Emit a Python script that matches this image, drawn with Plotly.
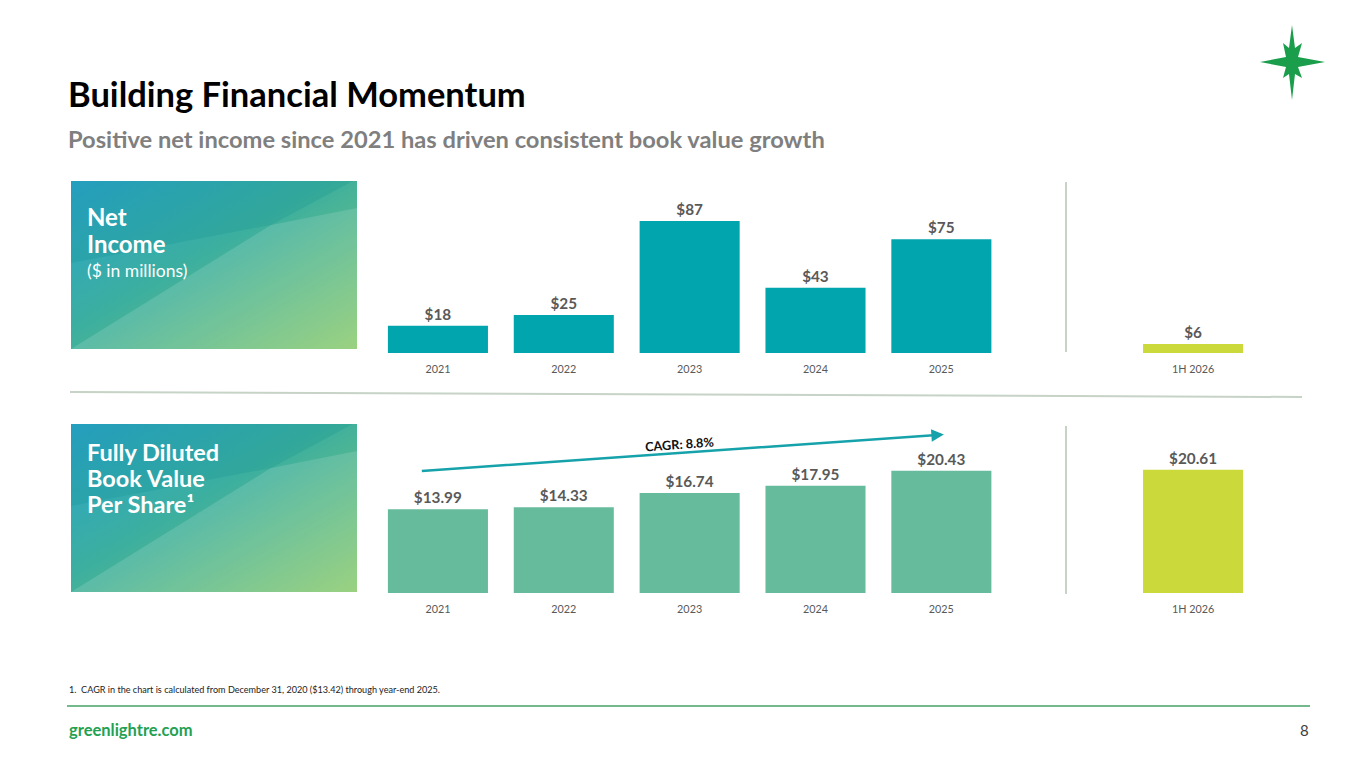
import base64

import plotly.graph_objects as go

W, H = 1365, 768
FONT = "Lato"

# Chart data
YEARS = ["2021", "2022", "2023", "2024", "2025"]
LATEST = "1H 2026"
SLOTS = YEARS + [" ", LATEST]  # blank slot holds the vertical divider

NET_INCOME = [18, 25, 87, 43, 75]
NET_INCOME_LATEST = 6
BVPS = [13.99, 14.33, 16.74, 17.95, 20.43]
BVPS_LATEST = 20.61

CAGR_TEXT = "CAGR: 8.8%"

TEAL = "#00a5ad"
SEA = "#67bb9d"
LIME = "#cbd93b"
GREY = "#595959"
RULE = "#c6d3c6"


def px(x: float) -> float:
    return x / W


def py(y: float) -> float:
    return 1 - y / H


def _panel_svg(w: int, h: int) -> str:
    # Gradient tile behind the section labels
    svg = f"""<svg xmlns="http://www.w3.org/2000/svg" width="{w}" height="{h}" viewBox="0 0 {w} {h}" preserveAspectRatio="none">
<defs><linearGradient id="g" x1="0" y1="0" x2="1" y2="1">
<stop offset="0" stop-color="#2aa3cc"/><stop offset="0.45" stop-color="#3caf9f"/><stop offset="1" stop-color="#8ccb6e"/>
</linearGradient></defs>
<rect width="{w}" height="{h}" fill="url(#g)"/>
<polygon points="0,0 282,0 200,44 0,82" fill="#0e8f8c" fill-opacity="0.22"/>
<polygon points="0,{h} 200,44 {w},27 {w},{h}" fill="#ffffff" fill-opacity="0.13"/>
</svg>"""
    return "data:image/svg+xml;base64," + base64.b64encode(svg.encode()).decode()


def _star_path(cx: float, cy: float) -> str:
    # Logo star, pixel offsets converted to paper coords
    pts = [
        (0, -37), (3, -14), (10, -19), (6, -5), (33, 0), (6, 5), (10, 16), (3, 12),
        (0, 38), (-3, 12), (-9, 16), (-6, 5), (-32, 0), (-6, -5), (-9, -19), (-3, -14),
    ]
    coords = [f"{px(cx + dx):.5f},{py(cy + dy):.5f}" for dx, dy in pts]
    return "M " + " L ".join(coords) + " Z"


def _bar_trace(values, latest, color, fmt, xa, ya) -> go.Bar:
    vals = values + [latest]
    return go.Bar(
        x=YEARS + [LATEST],
        y=vals,
        marker=dict(color=[color] * len(values) + [LIME], line=dict(width=0)),
        text=[fmt(v) for v in vals],
        textposition="outside",
        textfont=dict(family=FONT, size=15.3, color=GREY, weight="bold"),
        cliponaxis=False,
        xaxis=xa,
        yaxis=ya,
        hoverinfo="skip",
    )


def build_figure() -> go.Figure:
    fig = go.Figure()
    fig.add_trace(_bar_trace(NET_INCOME, NET_INCOME_LATEST, TEAL, lambda v: f"${v:.0f}", "x", "y"))
    fig.add_trace(_bar_trace(BVPS, BVPS_LATEST, SEA, lambda v: f"${v:.2f}", "x2", "y2"))

    xcommon = dict(
        type="category",
        categoryorder="array",
        categoryarray=SLOTS,
        range=[-0.5, len(SLOTS) - 0.5],
        domain=[px(375), px(1256)],
        showgrid=False,
        zeroline=False,
        showline=False,
        ticks="outside",
        ticklen=6,
        tickcolor="rgba(0,0,0,0)",
        tickfont=dict(family=FONT, size=10.8, color=GREY),
        fixedrange=True,
    )
    ycommon = dict(visible=False, showgrid=False, zeroline=False, fixedrange=True)

    fig.update_layout(
        width=W,
        height=H,
        margin=dict(l=0, r=0, t=0, b=0),
        paper_bgcolor="white",
        plot_bgcolor="rgba(0,0,0,0)",
        showlegend=False,
        bargap=0.205,
        font=dict(family=FONT, color=GREY),
        xaxis=dict(xcommon, anchor="y"),
        yaxis=dict(ycommon, domain=[py(353), py(181)], range=[0, 113.4]),
        xaxis2=dict(xcommon, anchor="y2"),
        yaxis2=dict(ycommon, domain=[py(593), py(425)], range=[0, 28.1]),
    )

    # Gradient label tiles
    for top in (181, 424):
        fig.add_layout_image(
            source=_panel_svg(286, 168), xref="paper", yref="paper",
            x=px(71), y=py(top), sizex=286 / W, sizey=168 / H,
            xanchor="left", yanchor="top", sizing="stretch", layer="below",
        )

    # Dividers
    line = dict(color=RULE, width=2)
    fig.add_shape(type="line", xref="paper", yref="paper", x0=px(1066), x1=px(1066), y0=py(182), y1=py(352), line=line)
    fig.add_shape(type="line", xref="paper", yref="paper", x0=px(1066), x1=px(1066), y0=py(426), y1=py(594), line=line)
    fig.add_shape(type="line", xref="paper", yref="paper", x0=px(70), x1=px(1302), y0=py(392), y1=py(397), line=line)
    fig.add_shape(type="line", xref="paper", yref="paper", x0=px(67), x1=px(1310), y0=py(706), y1=py(706),
                  line=dict(color="#74b98c", width=2))

    # Logo star
    fig.add_shape(type="path", xref="paper", yref="paper", path=_star_path(1292, 62),
                  fillcolor="#1b9e4b", line=dict(width=0))

    def note(x, y, text, size, color, bold=False, anchor="left"):
        fig.add_annotation(
            xref="paper", yref="paper", x=px(x), y=py(y), text=text, showarrow=False,
            xanchor=anchor, yanchor="middle", align="left",
            font=dict(family=FONT, size=size, color=color, weight="bold" if bold else "normal"),
        )

    note(66, 93, "Building Financial Momentum", 34.5, "#000000", bold=True)
    note(66, 139, "Positive net income since 2021 has driven consistent book value growth", 23.7, "#7f7f7f", bold=True)

    note(85, 216, "Net", 24, "white", bold=True)
    note(85, 243, "Income", 24, "white", bold=True)
    note(85, 271, "($ in millions)", 17.5, "white")
    note(85, 452, "Fully Diluted", 23.5, "white", bold=True)
    note(85, 478, "Book Value", 23.5, "white", bold=True)
    note(85, 504, "Per Share\u00b9", 23.5, "white", bold=True)

    note(67, 689, "1.  CAGR in the chart is calculated from December 31, 2020 ($13.42) through year-end 2025.", 9.1, "#222222")
    note(67, 730, "greenlightre.com", 16.5, "#22a153", bold=True)
    note(1311, 730, "8", 15, "#404040", anchor="right")

    # CAGR arrow over the book value bars
    fig.add_annotation(
        xref="x2", yref="y2", axref="x2", ayref="y2",
        x=4.02, y=26.5, ax=-0.14, ay=20.4,
        text="", showarrow=True, arrowhead=2, arrowsize=1, arrowwidth=2.5, arrowcolor="#16a2aa",
    )
    fig.add_annotation(
        xref="x2", yref="y2", x=1.92, y=25.0, text=CAGR_TEXT, showarrow=False, textangle=-4,
        font=dict(family=FONT, size=12.7, color="#111111", weight="bold"),
    )
    return fig


if __name__ == "__main__":
    fig = build_figure()
    fig.write_html("out.html", config={"displayModeBar": False},
                   post_script="document.body.style.margin='0';")
